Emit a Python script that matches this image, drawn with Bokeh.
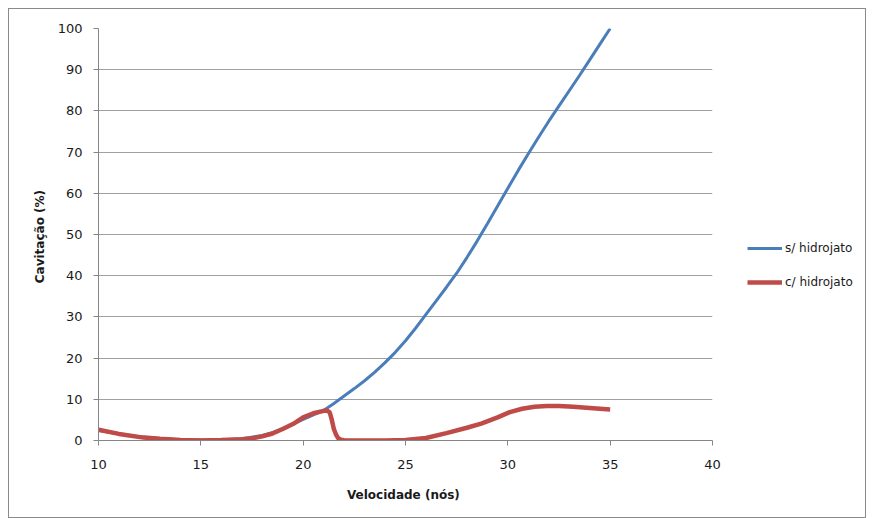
from bokeh.plotting import figure
from bokeh.models import Legend, LegendItem, Range1d, FixedTicker
from bokeh.layouts import row
from bokeh.embed import file_html
from bokeh.resources import INLINE

# Data
sem_x = [10, 11, 12, 13, 14, 15, 16, 17, 18, 18.5, 19, 19.5, 20, 20.5, 21, 21.5, 22, 22.5, 23, 23.5, 24, 24.5, 25, 25.5, 26, 26.5, 27, 27.5, 28, 28.5, 29, 29.5, 30, 30.5, 31, 31.5, 32, 32.5, 33, 33.5, 34, 34.5, 35]
sem_y = [2.5, 1.6, 0.9, 0.5, 0.2, 0.1, 0.1, 0.4, 1.2, 1.9, 2.9, 4.0, 5.1, 6.2, 7.3, 9.0, 10.8, 12.6, 14.5, 16.6, 18.9, 21.4, 24.2, 27.3, 30.6, 33.9, 37.2, 40.6, 44.4, 48.4, 52.6, 56.9, 61.2, 65.5, 69.6, 73.6, 77.5, 81.2, 84.9, 88.6, 92.4, 96.2, 100.0]

com_x = [10, 11, 12.2, 13, 14, 15, 16, 17, 17.5, 18, 18.5, 19, 19.5, 20, 20.5, 21, 21.15, 21.3, 21.4, 21.5, 21.6, 21.7, 21.85, 22, 22.5, 23, 24, 25, 26, 27, 28, 28.7, 29.5, 30.1, 30.7, 31.3, 31.9, 32.5, 33.2, 34, 35]
com_y = [2.6, 1.6, 0.7, 0.4, 0.1, 0.0, 0.1, 0.3, 0.5, 1.0, 1.7, 2.8, 4.0, 5.6, 6.6, 7.2, 7.3, 6.8, 5.0, 2.8, 1.5, 0.6, 0.2, 0.05, 0.0, 0.0, 0.0, 0.1, 0.6, 1.8, 3.1, 4.1, 5.6, 6.9, 7.7, 8.2, 8.4, 8.4, 8.2, 7.9, 7.5]

series_names = ["s/ hidrojato", "c/ hidrojato"]
series_colors = ["#4a7ebb", "#be4b48"]
series_widths = [3, 4.5]

x_ticks = [10, 15, 20, 25, 30, 35, 40]
y_ticks = [0, 10, 20, 30, 40, 50, 60, 70, 80, 90, 100]

H = 508
p = figure(width=713, height=H, output_backend="svg", toolbar_location=None,
           x_range=Range1d(10, 40), y_range=Range1d(0, 100),
           min_border_left=89, min_border_right=10, min_border_top=19, min_border_bottom=77)
p.outline_line_color = None
p.background_fill_color = "white"
p.border_fill_color = "white"

p.xgrid.grid_line_color = None
p.ygrid.grid_line_color = "#a0a0a0"
p.ygrid.grid_line_width = 1

p.xaxis.ticker = FixedTicker(ticks=x_ticks)
p.yaxis.ticker = FixedTicker(ticks=y_ticks)
for ax in (p.xaxis[0], p.yaxis[0]):
    ax.axis_line_color = "#868686"
    ax.major_tick_line_color = "#868686"
    ax.major_tick_out = 5
    ax.major_tick_in = 0
    ax.minor_tick_line_color = None
    ax.major_label_text_font = "DejaVu Sans"
    ax.major_label_text_font_size = "13px"
    ax.major_label_text_color = "#1a1a1a"
    ax.axis_label_text_font = "DejaVu Sans"
    ax.axis_label_text_font_size = "12px"
    ax.axis_label_text_font_style = "bold"
    ax.axis_label_text_color = "#1a1a1a"

p.xaxis.axis_label = "Velocidade  (nós)"
p.yaxis.axis_label = "Cavitação  (%)"
p.xaxis.major_label_standoff = 14
p.xaxis.axis_label_standoff = 16
p.yaxis.major_label_standoff = 11
p.yaxis.axis_label_standoff = 8

p.line(sem_x, sem_y, line_color=series_colors[0], line_width=series_widths[0])
p.line(com_x, com_y, line_color=series_colors[1], line_width=series_widths[1])

# Legend panel to the right of the plot area (its frame is aligned with the main frame)
q = figure(width=143, height=H, output_backend="svg", toolbar_location=None,
           x_axis_type=None, y_axis_type=None, x_range=Range1d(0, 1), y_range=Range1d(0, 1),
           min_border=0)
q.outline_line_color = None
q.grid.visible = False
q.border_fill_color = "white"
items = []
for name, c, w in zip(series_names, series_colors, series_widths):
    # off-range placeholder so that only the legend swatch is visible
    r = q.line([-5, -4], [-5, -5], line_color=c, line_width=w)
    items.append(LegendItem(label=name, renderers=[r]))

legend = Legend(items=items, location=(25, 148), orientation="vertical",
                glyph_width=35, glyph_height=20, label_height=20,
                spacing=14, padding=0, margin=0, label_standoff=3,
                label_text_font="DejaVu Sans", label_text_font_size="12px",
                label_text_color="#1a1a1a",
                background_fill_alpha=0, border_line_color=None)
q.add_layout(legend, "center")

layout = row(p, q)
layout.styles = {"border": "1px solid #8a8a8a", "margin-left": "8px", "margin-top": "8px",
                 "background-color": "white"}

open("out.html", "w").write(file_html(layout, INLINE))
